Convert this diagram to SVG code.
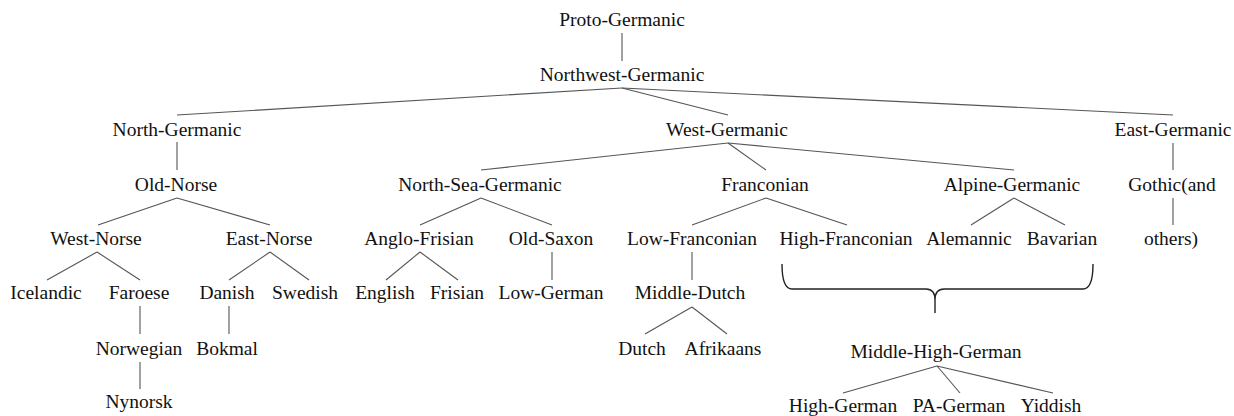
<svg xmlns="http://www.w3.org/2000/svg" width="1234" height="416" viewBox="0 0 1234 416">
<style>
text{font-size:19.5px;fill:#111;text-anchor:middle}
.e line{stroke:#555;stroke-width:1.1}
.brace{fill:none;stroke:#222;stroke-width:1.4}
</style>
<rect width="1234" height="416" fill="#fff"/>
<g class="e" id="connectors">
<line x1="622" y1="33" x2="622" y2="61"/>
<line x1="622" y1="88" x2="177" y2="115"/>
<line x1="622" y1="88" x2="728" y2="115"/>
<line x1="622" y1="88" x2="1173" y2="115"/>
<line x1="177" y1="142" x2="177" y2="170"/>
<line x1="728" y1="143" x2="481" y2="170"/>
<line x1="728" y1="143" x2="766" y2="170"/>
<line x1="728" y1="143" x2="1014" y2="170"/>
<line x1="1173" y1="143" x2="1173" y2="170"/>
<line x1="177" y1="198" x2="98" y2="225"/>
<line x1="177" y1="198" x2="270" y2="225"/>
<line x1="481" y1="198" x2="420" y2="225"/>
<line x1="481" y1="198" x2="552" y2="225"/>
<line x1="766" y1="198" x2="692" y2="225"/>
<line x1="766" y1="198" x2="847" y2="225"/>
<line x1="1014" y1="198" x2="971" y2="225"/>
<line x1="1014" y1="198" x2="1065" y2="225"/>
<line x1="1173" y1="198" x2="1173" y2="225"/>
<line x1="97" y1="252" x2="47" y2="280"/>
<line x1="97" y1="252" x2="140" y2="280"/>
<line x1="270" y1="252" x2="229" y2="280"/>
<line x1="270" y1="252" x2="309" y2="280"/>
<line x1="420" y1="252" x2="386" y2="280"/>
<line x1="420" y1="252" x2="458" y2="280"/>
<line x1="552" y1="252" x2="552" y2="280"/>
<line x1="692" y1="252" x2="692" y2="280"/>
<line x1="140" y1="306" x2="140" y2="334"/>
<line x1="229" y1="306" x2="229" y2="334"/>
<line x1="692" y1="307" x2="645" y2="334"/>
<line x1="692" y1="307" x2="727" y2="334"/>
<line x1="140" y1="362" x2="140" y2="389"/>
<line x1="937" y1="366" x2="843" y2="393"/>
<line x1="937" y1="366" x2="960" y2="393"/>
<line x1="937" y1="366" x2="1053" y2="393"/>
<path class="brace" d="M782,264 Q782,289 792,289 L926,289 Q935,289 935,300 L935,313 M935,300 Q935,289 944,289 L1083,289 Q1093,289 1093,264"/>
</g>
<g id="labels" font-family="'Liberation Serif', 'Times New Roman', 'DejaVu Serif', 'Noto Serif', serif">
<g id="proto-germanic"><text x="622" y="26">Proto-Germanic</text></g>
<g id="northwest-germanic"><text x="622" y="81">Northwest-Germanic</text></g>
<g id="north-germanic"><text x="177" y="136">North-Germanic</text></g>
<g id="west-germanic"><text x="727" y="136">West-Germanic</text></g>
<g id="east-germanic"><text x="1173" y="136">East-Germanic</text></g>
<g id="old-norse"><text x="176" y="191">Old-Norse</text></g>
<g id="north-sea-germanic"><text x="480" y="191">North-Sea-Germanic</text></g>
<g id="franconian"><text x="765" y="191">Franconian</text></g>
<g id="alpine-germanic"><text x="1012" y="191">Alpine-Germanic</text></g>
<g id="gothic"><text x="1172" y="191">Gothic(and</text><text x="1171" y="245">others)</text></g>
<g id="west-norse"><text x="96" y="245">West-Norse</text></g>
<g id="east-norse"><text x="269" y="245">East-Norse</text></g>
<g id="anglo-frisian"><text x="419" y="245">Anglo-Frisian</text></g>
<g id="old-saxon"><text x="551" y="245">Old-Saxon</text></g>
<g id="low-franconian"><text x="692" y="245">Low-Franconian</text></g>
<g id="high-franconian"><text x="846" y="245">High-Franconian</text></g>
<g id="alemannic"><text x="969" y="245">Alemannic</text></g>
<g id="bavarian"><text x="1062" y="245">Bavarian</text></g>
<g id="icelandic"><text x="46" y="299">Icelandic</text></g>
<g id="faroese"><text x="139" y="299">Faroese</text></g>
<g id="danish"><text x="227" y="299">Danish</text></g>
<g id="swedish"><text x="305" y="299">Swedish</text></g>
<g id="english"><text x="385" y="299">English</text></g>
<g id="frisian"><text x="457" y="299">Frisian</text></g>
<g id="low-german"><text x="551" y="299">Low-German</text></g>
<g id="middle-dutch"><text x="690" y="299">Middle-Dutch</text></g>
<g id="norwegian"><text x="139" y="355">Norwegian</text></g>
<g id="bokmal"><text x="227" y="355">Bokmal</text></g>
<g id="dutch"><text x="642" y="355">Dutch</text></g>
<g id="afrikaans"><text x="723" y="355">Afrikaans</text></g>
<g id="middle-high-german"><text x="936" y="358">Middle-High-German</text></g>
<g id="nynorsk"><text x="139" y="408">Nynorsk</text></g>
<g id="high-german"><text x="843" y="412">High-German</text></g>
<g id="pa-german"><text x="959" y="412">PA-German</text></g>
<g id="yiddish"><text x="1051" y="412">Yiddish</text></g>
</g>
</svg>
